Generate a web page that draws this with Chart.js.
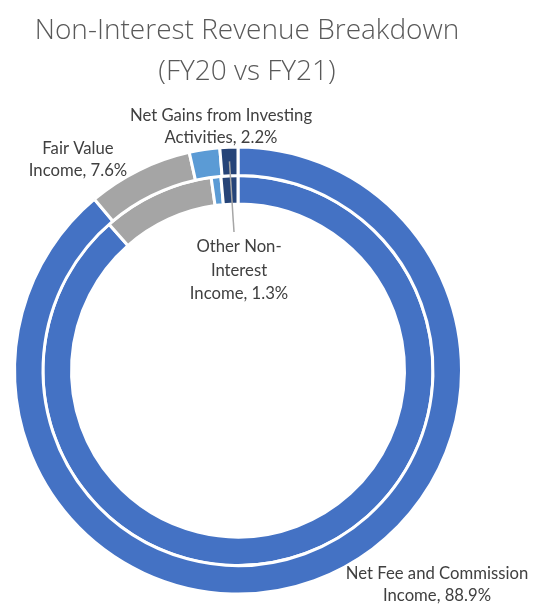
<!DOCTYPE html>
<html><head><meta charset="utf-8">
<script src="https://cdn.jsdelivr.net/npm/chart.js@4/dist/chart.umd.min.js"></script>
<style>html,body{margin:0;padding:0;background:#fff}#wrap{width:534px;height:604px;position:relative}</style>
</head><body><div id="wrap"><canvas id="c" width="534" height="604"></canvas></div>
<script>
// ---- data ----
const categories = ['Net Fee and Commission Income', 'Fair Value Income', 'Net Gains from Investing Activities', 'Other Non-Interest Income'];
const fy21Values = [88.9, 7.6, 2.2, 1.3];   // outer ring (labelled)
const fy20Values = [88.5, 9.3, 0.8, 1.4];   // inner ring
const sliceColors = ['#4472C4', '#A5A5A5', '#5B9BD5', '#264478'];
const titleLines = ['Non-Interest Revenue Breakdown', '(FY20 vs FY21)'];
// label line heads; the last line gets ", value%" appended from the data
const labelHeads = [
  ['Net Fee and Commission', 'Income'],
  ['Fair Value', 'Income'],
  ['Net Gains from Investing', 'Activities'],
  ['Other Non-', 'Interest', 'Income']
];

// ---- layout (not data) ----
const titleStyle = { x: 247, y: [31, 72], font: '300 28px "Open Sans"', color: '#595959' };
const labelStyle = { font: '16.7px Lato', color: '#404040' };
const labelPos = [
  { x: 437, y: 574, lh: 22 },
  { x: 78, y: 149, lh: 22 },
  { x: 221, y: 116, lh: 22 },
  { x: 239, y: 247, lh: 23.5 }
];

const textPlugin = {
  id: 'textPlugin',
  afterDraw(chart) {
    const ctx = chart.ctx;
    ctx.save();
    ctx.textAlign = 'center';
    ctx.textBaseline = 'middle';
    ctx.fillStyle = titleStyle.color;
    ctx.font = titleStyle.font;
    titleLines.forEach((t, i) => ctx.fillText(t, titleStyle.x, titleStyle.y[i]));

    // leader line for the small "Other" slice of the outer ring
    const meta = chart.getDatasetMeta(0);
    const arc = meta.data[3];
    const p = arc.getCenterPoint();
    ctx.strokeStyle = '#A6A6A6';
    ctx.lineWidth = 1.5;
    ctx.beginPath();
    ctx.moveTo(p.x, p.y);
    ctx.lineTo(labelPos[3].x - 5, labelPos[3].y - 15);
    ctx.stroke();

    ctx.fillStyle = labelStyle.color;
    ctx.font = labelStyle.font;
    labelHeads.forEach((lines, i) => {
      const full = lines.slice();
      full[full.length - 1] = full[full.length - 1] + ', ' + fy21Values[i].toFixed(1) + '%';
      const pos = labelPos[i];
      full.forEach((t, j) => ctx.fillText(t, pos.x, pos.y + j * pos.lh));
    });
    ctx.restore();
  }
};

new Chart(document.getElementById('c'), {
  type: 'doughnut',
  data: {
    labels: categories,
    datasets: [
      { label: 'FY21', data: fy21Values, backgroundColor: sliceColors, borderColor: '#ffffff', borderWidth: 3 },
      { label: 'FY20', data: fy20Values, backgroundColor: sliceColors, borderColor: '#ffffff', borderWidth: 3 }
    ]
  },
  options: {
    responsive: false,
    animation: false,
    cutout: '74.5%',
    layout: { padding: { left: 13, right: 71, top: 145.5, bottom: 8.5 } },
    plugins: { legend: { display: false }, title: { display: false }, tooltip: { enabled: false } }
  },
  plugins: [textPlugin]
});
</script>
</body></html>
